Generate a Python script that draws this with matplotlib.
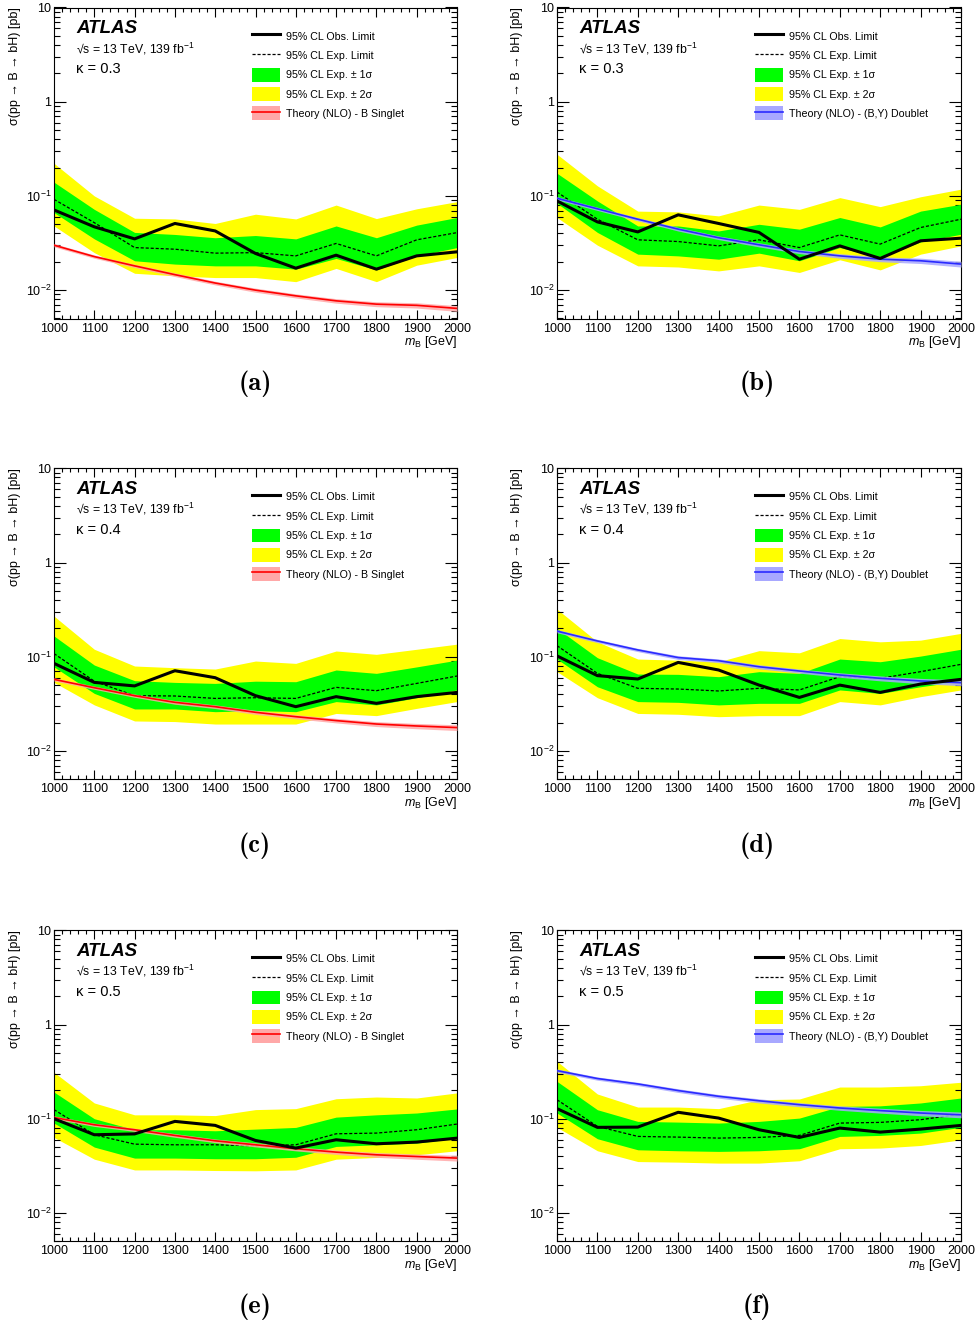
import matplotlib.pyplot as plt
from matplotlib.lines import Line2D
from matplotlib.patches import Patch
from matplotlib.ticker import FixedLocator, MultipleLocator, LogLocator, NullFormatter

plt.rcParams['font.family'] = ['Liberation Sans', 'DejaVu Sans']
plt.rcParams['mathtext.fontset'] = 'custom'
plt.rcParams['mathtext.rm'] = 'Liberation Sans'
plt.rcParams['mathtext.it'] = 'Liberation Sans:italic'
plt.rcParams['mathtext.bf'] = 'Liberation Sans:bold'

# B quark mass points [GeV]
mass = [1000, 1100, 1200, 1300, 1400, 1500, 1600, 1700, 1800, 1900, 2000]

# relative uncertainty of the NLO theory cross-section (band width)
th_unc = [0.04, 0.04, 0.04, 0.045, 0.045, 0.05, 0.05, 0.055, 0.06, 0.065, 0.07]

# (a) kappa = 0.3, B singlet
obs_a = [0.071, 0.047, 0.035, 0.051, 0.0425, 0.0245, 0.0171, 0.0235, 0.0167, 0.0231, 0.0255]
exp_a = [0.092, 0.052, 0.0283, 0.0272, 0.0247, 0.025, 0.0231, 0.0313, 0.0231, 0.0342, 0.0408]
p1_a = [0.14, 0.072, 0.041, 0.039, 0.036, 0.038, 0.035, 0.048, 0.036, 0.049, 0.059]
m1_a = [0.0666, 0.035, 0.0205, 0.0189, 0.0181, 0.0181, 0.0167, 0.0217, 0.0164, 0.0231, 0.0283]
p2_a = [0.222, 0.10, 0.058, 0.057, 0.051, 0.064, 0.057, 0.080, 0.0575, 0.073, 0.087]
m2_a = [0.048, 0.025, 0.0151, 0.0142, 0.0136, 0.0136, 0.0123, 0.0170, 0.0123, 0.0184, 0.0222]
th_a = [0.030, 0.0227, 0.0181, 0.0146, 0.0119, 0.0100, 0.0087, 0.0077, 0.0071, 0.0069, 0.0064]

# (b) kappa = 0.3, (B,Y) doublet
obs_b = [0.0885, 0.053, 0.0415, 0.063, 0.051, 0.041, 0.0213, 0.0295, 0.0217, 0.0334, 0.0356]
exp_b = [0.110, 0.0566, 0.0342, 0.0328, 0.0295, 0.0342, 0.0283, 0.0386, 0.0308, 0.0462, 0.0566]
p1_b = [0.174, 0.0885, 0.048, 0.048, 0.0425, 0.050, 0.0444, 0.059, 0.0469, 0.069, 0.0816]
m1_b = [0.0836, 0.041, 0.0241, 0.0231, 0.0213, 0.0247, 0.0205, 0.0283, 0.0222, 0.0325, 0.0392]
p2_b = [0.277, 0.128, 0.069, 0.0677, 0.0614, 0.080, 0.072, 0.096, 0.077, 0.098, 0.118]
m2_b = [0.059, 0.030, 0.0181, 0.0176, 0.016, 0.0181, 0.0154, 0.021, 0.0164, 0.0241, 0.0295]
th_b = [0.0945, 0.073, 0.0566, 0.0444, 0.036, 0.0303, 0.0257, 0.0231, 0.0213, 0.0205, 0.0189]

# (c) kappa = 0.4, B singlet
obs_c = [0.085, 0.0534, 0.049, 0.071, 0.0599, 0.0386, 0.0295, 0.0377, 0.032, 0.0377, 0.0418]
exp_c = [0.108, 0.055, 0.0386, 0.0383, 0.0361, 0.0367, 0.0361, 0.0473, 0.0436, 0.0521, 0.0624]
p1_c = [0.166, 0.0816, 0.0557, 0.0534, 0.0521, 0.055, 0.0543, 0.0723, 0.0666, 0.078, 0.092]
m1_c = [0.078, 0.0408, 0.0279, 0.0279, 0.0261, 0.0268, 0.0261, 0.0334, 0.0308, 0.0367, 0.0444]
p2_c = [0.27, 0.12, 0.0797, 0.0765, 0.074, 0.09, 0.085, 0.115, 0.106, 0.12, 0.136]
m2_c = [0.0534, 0.0308, 0.0208, 0.0205, 0.0193, 0.0193, 0.0193, 0.025, 0.0237, 0.0283, 0.0334]
th_c = [0.0575, 0.0469, 0.0386, 0.0328, 0.0295, 0.0257, 0.0231, 0.021, 0.0193, 0.0184, 0.0177]

# (d) kappa = 0.4, (B,Y) doublet
obs_d = [0.102, 0.063, 0.058, 0.087, 0.0723, 0.050, 0.037, 0.050, 0.0418, 0.0513, 0.0575]
exp_d = [0.131, 0.0666, 0.0462, 0.0454, 0.0433, 0.0462, 0.0444, 0.0614, 0.059, 0.0694, 0.083]
p1_d = [0.20, 0.0976, 0.0655, 0.065, 0.0614, 0.0694, 0.0666, 0.0945, 0.0885, 0.1016, 0.12]
m1_d = [0.0945, 0.048, 0.0334, 0.0328, 0.0308, 0.032, 0.032, 0.0444, 0.0408, 0.048, 0.0553]
p2_d = [0.32, 0.144, 0.0945, 0.092, 0.0885, 0.116, 0.11, 0.156, 0.144, 0.15, 0.177]
m2_d = [0.0694, 0.0367, 0.025, 0.0245, 0.0231, 0.0237, 0.0237, 0.0334, 0.0308, 0.0377, 0.0444]
th_d = [0.187, 0.147, 0.118, 0.098, 0.0907, 0.0783, 0.0705, 0.064, 0.059, 0.0553, 0.053]

# (e) kappa = 0.5, B singlet
obs_e = [0.100, 0.0676, 0.069, 0.0937, 0.085, 0.0588, 0.0488, 0.0598, 0.0542, 0.0565, 0.0622]
exp_e = [0.125, 0.0676, 0.0537, 0.0529, 0.0529, 0.0516, 0.0529, 0.0692, 0.0704, 0.0764, 0.0878]
p1_e = [0.192, 0.100, 0.0764, 0.0764, 0.0745, 0.0776, 0.0809, 0.104, 0.11, 0.115, 0.127]
m1_e = [0.090, 0.050, 0.0382, 0.0382, 0.0376, 0.0376, 0.039, 0.0508, 0.0529, 0.0551, 0.0622]
p2_e = [0.311, 0.147, 0.11, 0.11, 0.108, 0.125, 0.128, 0.163, 0.17, 0.166, 0.188]
m2_e = [0.0633, 0.0372, 0.0286, 0.0286, 0.0282, 0.028, 0.0286, 0.0372, 0.0388, 0.0414, 0.0457]
th_e = [0.103, 0.0863, 0.0764, 0.0665, 0.0583, 0.0529, 0.048, 0.0442, 0.0414, 0.0397, 0.0382]

# (f) kappa = 0.5, (B,Y) doublet
obs_f = [0.128, 0.081, 0.0815, 0.117, 0.1016, 0.0764, 0.0633, 0.0796, 0.0721, 0.0776, 0.0849]
exp_f = [0.159, 0.0829, 0.0649, 0.0638, 0.0623, 0.0633, 0.0665, 0.0899, 0.0914, 0.0976, 0.112]
p1_f = [0.249, 0.1246, 0.0937, 0.0921, 0.0899, 0.0937, 0.1016, 0.135, 0.137, 0.147, 0.166]
m1_f = [0.115, 0.0613, 0.0468, 0.0457, 0.045, 0.0457, 0.048, 0.0649, 0.0665, 0.0704, 0.081]
p2_f = [0.407, 0.183, 0.133, 0.133, 0.128, 0.159, 0.162, 0.217, 0.217, 0.224, 0.244]
m2_f = [0.081, 0.0457, 0.0351, 0.0346, 0.0338, 0.0338, 0.0358, 0.048, 0.0488, 0.052, 0.0598]
th_f = [0.324, 0.267, 0.234, 0.199, 0.173, 0.155, 0.141, 0.13, 0.122, 0.115, 0.11]

kappas = ['0.3', '0.3', '0.4', '0.4', '0.5', '0.5']
captions = ['(a)', '(b)', '(c)', '(d)', '(e)', '(f)']
th_labels = ['Theory (NLO) - B Singlet', 'Theory (NLO) - (B,Y) Doublet']

panels = [
    (obs_a, exp_a, p1_a, m1_a, p2_a, m2_a, th_a),
    (obs_b, exp_b, p1_b, m1_b, p2_b, m2_b, th_b),
    (obs_c, exp_c, p1_c, m1_c, p2_c, m2_c, th_c),
    (obs_d, exp_d, p1_d, m1_d, p2_d, m2_d, th_d),
    (obs_e, exp_e, p1_e, m1_e, p2_e, m2_e, th_e),
    (obs_f, exp_f, p1_f, m1_f, p2_f, m2_f, th_f),
]

GREEN = '#00ff00'
YELLOW = '#ffff00'
th_line = ['#ff0000', '#2a2aff']
th_band = ['#ffa8a8', '#a8a8ff']

W, H = 975, 1325
fig = plt.figure(figsize=(W / 100, H / 100), dpi=100)

col_left = [54, 557]
col_width = [403, 404]
row_top = [7.5, 468.3, 930.3]
ax_h = 311
cap_y = [384, 846, 1307]
cap_x = [255, 757]

for i, (obs, exp, p1, m1, p2, m2, th) in enumerate(panels):
    r, c = i // 2, i % 2
    ax = fig.add_axes([col_left[c] / W, 1 - (row_top[r] + ax_h) / H,
                       col_width[c] / W, ax_h / H])

    ax.fill_between(mass, m2, p2, color=YELLOW, lw=0, zorder=1)
    ax.fill_between(mass, m1, p1, color=GREEN, lw=0, zorder=2)
    ax.plot(mass, exp, color='k', lw=0.9, ls=(0, (2.5, 1.5)), zorder=3)
    th_lo = [t * (1 - u) for t, u in zip(th, th_unc)]
    th_hi = [t * (1 + u) for t, u in zip(th, th_unc)]
    ax.fill_between(mass, th_lo, th_hi, color=th_band[c], alpha=0.85, lw=0, zorder=4)
    ax.plot(mass, th, color=th_line[c], lw=1.2, zorder=5)
    ax.plot(mass, obs, color='k', lw=2.2, zorder=6)

    ax.set_yscale('log')
    ax.set_xlim(1000, 2000)
    ax.set_ylim(0.005, 10)
    ax.xaxis.set_major_locator(MultipleLocator(100))
    ax.xaxis.set_minor_locator(MultipleLocator(20))
    ax.yaxis.set_major_locator(FixedLocator([0.01, 0.1, 1, 10]))
    ax.set_yticklabels(['10$^{-2}$', '10$^{-1}$', '1', '10'])
    ax.yaxis.set_minor_locator(LogLocator(base=10, subs=range(2, 10)))
    ax.yaxis.set_minor_formatter(NullFormatter())
    ax.tick_params(which='both', direction='in', top=True, right=True,
                   labelsize=9, width=0.8)
    ax.tick_params(axis='x', which='major', length=6.5, pad=3)
    ax.tick_params(axis='x', which='minor', length=3.2)
    ax.tick_params(axis='y', which='major', length=8.5, pad=2)
    ax.tick_params(axis='y', which='minor', length=4.3)
    for s in ax.spines.values():
        s.set_linewidth(0.8)

    ax.set_xlabel('$m_{\\mathrm{B}}$ [GeV]', fontsize=9, loc='right')
    ax.xaxis.set_label_coords(1.0, -0.05)
    ax.set_ylabel('σ(pp → B → bH) [pb]', fontsize=9, loc='top')
    ax.yaxis.set_label_coords(-0.083, 1.0)

    ax.text(0.055, 0.933, 'ATLAS', transform=ax.transAxes, fontsize=13.5,
            fontweight='bold', style='italic', va='center')
    ax.text(0.055, 0.868, '√s = 13 TeV, 139 fb$^{-1}$', transform=ax.transAxes,
            fontsize=8.8, va='center')
    ax.text(0.055, 0.803, 'κ = ' + kappas[i], transform=ax.transAxes,
            fontsize=10.5, va='center')

    handles = [
        Line2D([], [], color='k', lw=2.2),
        Line2D([], [], color='k', lw=0.9, ls=(0, (2.5, 1.5))),
        Patch(facecolor=GREEN, lw=0),
        Patch(facecolor=YELLOW, lw=0),
        (Patch(facecolor=th_band[c], lw=0), Line2D([], [], color=th_line[c], lw=1.2)),
    ]
    labels = ['95% CL Obs. Limit', '95% CL Exp. Limit', '95% CL Exp. ± 1σ',
              '95% CL Exp. ± 2σ', th_labels[c]]
    ax.legend(handles, labels, loc='upper left', bbox_to_anchor=(0.491, 0.930),
              frameon=False, fontsize=7.7, borderpad=0, borderaxespad=0,
              handlelength=2.6, handleheight=1.6, labelspacing=0.52,
              handletextpad=0.55)

    fig.text(cap_x[c] / W, 1 - cap_y[r] / H, captions[i], fontsize=19,
             family='cmb10', ha='center', va='center')

fig.savefig('out.png', dpi=100)
